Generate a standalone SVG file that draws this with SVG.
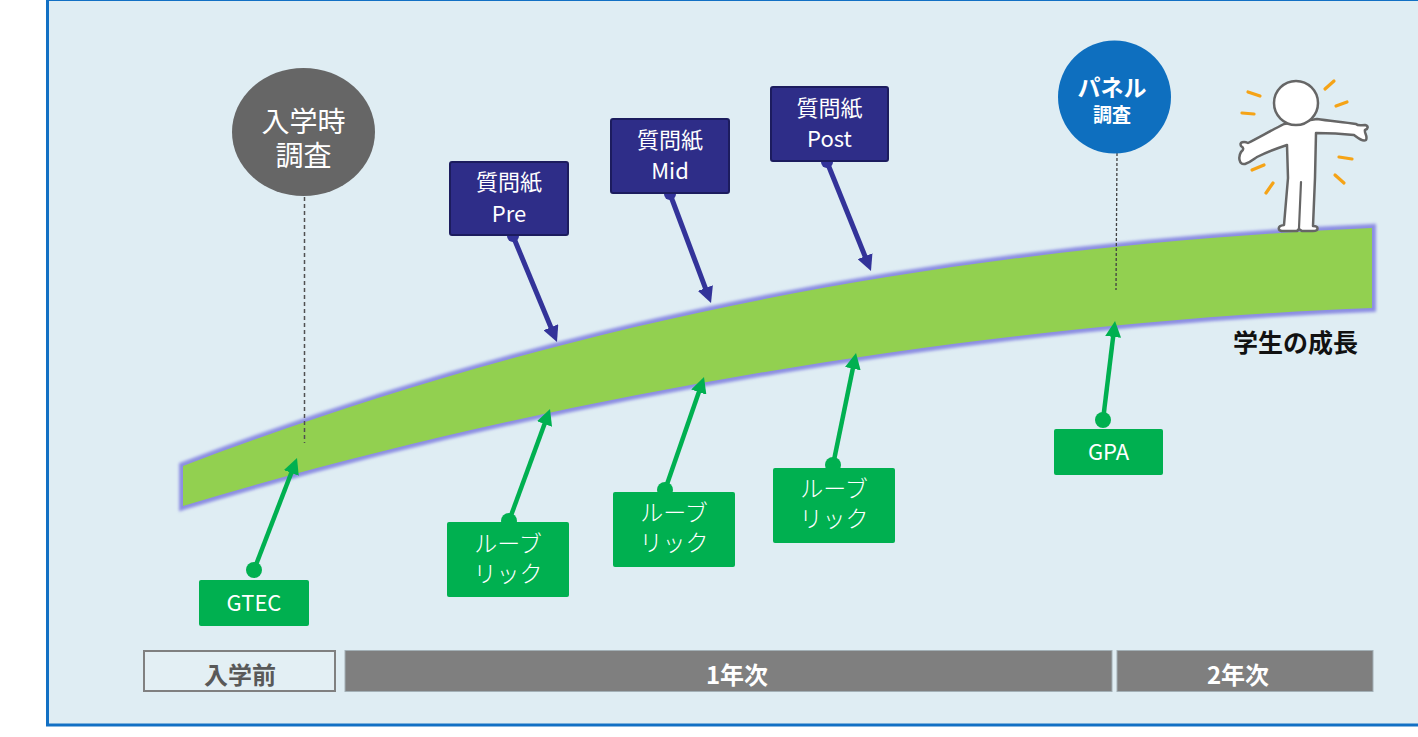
<svg xmlns="http://www.w3.org/2000/svg" width="1418" height="737" viewBox="0 0 1418 737">
  <defs>
    <style>
      text { font-family: "Noto Sans CJK JP", "Noto Sans", sans-serif; }
      .lbl-w { fill: #ffffff; font-size: 22px; text-anchor: middle; }
      .lbl-k { fill: #ffffff; font-size: 23px; text-anchor: middle; font-weight: 300; }
      .navy-box { fill: #2E2D88; stroke: #1C1C5E; stroke-width: 2; }
      .green-box { fill: #00B050; }
      .navy-line { stroke: #333399; stroke-width: 5; fill: none; }
      .green-line { stroke: #00B050; stroke-width: 4.5; fill: none; }
      .ray { stroke: #F5A316; stroke-width: 3.2; stroke-linecap: round; }
      .bar { fill: #7F7F7F; stroke: #A3B0B6; stroke-width: 1; }
      .bar-t { fill: #ffffff; font-size: 24px; font-weight: 700; text-anchor: middle; }
    </style>
    <marker id="head-green" markerUnits="userSpaceOnUse" viewBox="0 0 16 16" markerWidth="16" markerHeight="16" refX="4" refY="8" orient="auto">
      <path d="M0,0 L16,8 L0,16 Z" fill="#00B050"/>
    </marker>
    <marker id="head-navy" markerUnits="userSpaceOnUse" viewBox="0 0 16 16" markerWidth="16" markerHeight="16" refX="4" refY="8" orient="auto">
      <path d="M0,0 L16,8 L0,16 Z" fill="#333399"/>
    </marker>
    <filter id="glow" x="-5%" y="-20%" width="110%" height="140%">
      <feGaussianBlur stdDeviation="1.6"/>
    </filter>
  </defs>

  <!-- page background and frame -->
  <rect x="0" y="0" width="1418" height="737" fill="#ffffff"/>
  <rect x="47.5" y="-0.5" width="1400" height="725.5" fill="#DFEDF3" stroke="#1270C4" stroke-width="3"/>

  <!-- growth band -->
  <g id="growth-band">
    <path d="M183,466 C500,345 880,250 1372,228 L1372,308 C1000,322 560,392 183,506 Z" fill="none" stroke="#8C8EE2" stroke-width="8" filter="url(#glow)"/>
    <path d="M183,466 C500,345 880,250 1372,228 L1372,308 C1000,322 560,392 183,506 Z" fill="#92D050"/>
  </g>

  <!-- connectors -->
  <g id="connectors">
    <line x1="304.5" y1="197" x2="304.5" y2="443" stroke="#505050" stroke-width="1.5" stroke-dasharray="4 3"/>
    <line x1="1117" y1="153" x2="1116" y2="290" stroke="#404040" stroke-width="1.3" stroke-dasharray="3 2"/>

    <circle cx="513" cy="236" r="6" fill="#333399"/>
    <line class="navy-line" x1="513" y1="236" x2="552.4" y2="330.9" marker-end="url(#head-navy)"/>
    <circle cx="670" cy="194" r="6" fill="#333399"/>
    <line class="navy-line" x1="670" y1="194" x2="706.8" y2="291.8" marker-end="url(#head-navy)"/>
    <circle cx="827" cy="162" r="6" fill="#333399"/>
    <line class="navy-line" x1="827" y1="162" x2="866.5" y2="259.9" marker-end="url(#head-navy)"/>

    <circle cx="254" cy="570" r="8" fill="#00B050"/>
    <line class="green-line" x1="254" y1="570" x2="292.7" y2="469.2" marker-end="url(#head-green)"/>
    <circle cx="509" cy="521" r="8" fill="#00B050"/>
    <line class="green-line" x1="509" y1="521" x2="545.9" y2="420.3" marker-end="url(#head-green)"/>
    <circle cx="665" cy="490" r="8" fill="#00B050"/>
    <line class="green-line" x1="665" y1="490" x2="700.1" y2="388.4" marker-end="url(#head-green)"/>
    <circle cx="833" cy="465" r="8" fill="#00B050"/>
    <line class="green-line" x1="833" y1="465" x2="853.6" y2="364.8" marker-end="url(#head-green)"/>
    <circle cx="1103" cy="420" r="8" fill="#00B050"/>
    <line class="green-line" x1="1103" y1="420" x2="1113.6" y2="332.9" marker-end="url(#head-green)"/>
  </g>

  <!-- survey at entry -->
  <g id="entry-survey">
    <ellipse cx="303.5" cy="132" rx="71.5" ry="64" fill="#666666"/>
    <text class="lbl-w" style="font-size:28px"><tspan x="303.5" y="132">入学時</tspan><tspan x="303.5" y="166">調査</tspan></text>
  </g>

  <!-- questionnaires -->
  <g id="q-pre">
    <rect class="navy-box" x="450" y="162" width="118" height="73" rx="2"/>
    <text class="lbl-w"><tspan x="509" y="190">質問紙</tspan><tspan x="509" y="222">Pre</tspan></text>
  </g>
  <g id="q-mid">
    <rect class="navy-box" x="611" y="119" width="118" height="74" rx="2"/>
    <text class="lbl-w"><tspan x="670" y="148">質問紙</tspan><tspan x="670" y="179">Mid</tspan></text>
  </g>
  <g id="q-post">
    <rect class="navy-box" x="771" y="87" width="117" height="74" rx="2"/>
    <text class="lbl-w"><tspan x="829.5" y="116">質問紙</tspan><tspan x="829.5" y="147">Post</tspan></text>
  </g>

  <!-- panel survey -->
  <g id="panel-survey">
    <circle cx="1114.5" cy="97" r="56.5" fill="#0E6FBF"/>
    <text class="lbl-w" style="font-weight:700"><tspan x="1112" y="96" style="font-size:23px">パネル</tspan><tspan x="1112" y="122" style="font-size:19px">調査</tspan></text>
  </g>

  <!-- assessments -->
  <g id="gtec">
    <rect class="green-box" x="199" y="580" width="110" height="46" rx="2"/>
    <text x="254" y="611" class="lbl-w">GTEC</text>
  </g>
  <g id="rubric-1">
    <rect class="green-box" x="447" y="522" width="122" height="75" rx="2"/>
    <text class="lbl-k"><tspan x="508" y="552">ルーブ</tspan><tspan x="508" y="582">リック</tspan></text>
  </g>
  <g id="rubric-2">
    <rect class="green-box" x="613" y="492" width="122" height="75" rx="2"/>
    <text class="lbl-k"><tspan x="674" y="521">ルーブ</tspan><tspan x="674" y="551">リック</tspan></text>
  </g>
  <g id="rubric-3">
    <rect class="green-box" x="773" y="468" width="122" height="75" rx="2"/>
    <text class="lbl-k"><tspan x="834" y="497">ルーブ</tspan><tspan x="834" y="527">リック</tspan></text>
  </g>
  <g id="gpa">
    <rect class="green-box" x="1054" y="429" width="109" height="46" rx="2"/>
    <text x="1108.5" y="460" class="lbl-w">GPA</text>
  </g>

  <!-- growth label -->
  <g id="growth-label">
    <text x="1295.5" y="352" style="font-size:25px;font-weight:700;fill:#111111;text-anchor:middle">学生の成長</text>
  </g>

  <!-- student figure -->
  <g id="student">
    <g class="rays">
      <line class="ray" x1="1248" y1="92" x2="1260" y2="96"/>
      <line class="ray" x1="1242" y1="113" x2="1254" y2="114"/>
      <line class="ray" x1="1252" y1="170" x2="1264" y2="165"/>
      <line class="ray" x1="1266" y1="193" x2="1273" y2="183"/>
      <line class="ray" x1="1325" y1="89" x2="1334" y2="81"/>
      <line class="ray" x1="1336" y1="106" x2="1347" y2="102"/>
      <line class="ray" x1="1339" y1="157" x2="1352" y2="159"/>
      <line class="ray" x1="1335" y1="175" x2="1344" y2="183"/>
    </g>
    <path d="M1284,124 C1272,130 1258,138 1248,143 C1244,141 1239,142 1241,146 C1244,148 1244,149 1241,152 C1238,157 1239,165 1245,164 C1251,162 1254,159 1257,157 C1267,152 1278,148 1287,145 L1288,178 L1284,225 C1277,226 1277,231 1284,231 L1297,231 L1299,229 L1302,231 L1313,231 C1319,231 1319,226 1313,226 L1315,178 L1316,133 C1330,133 1345,134 1354,135 C1358,138 1363,142 1366,140 C1368,136 1364,133 1365,130 C1368,129 1369,126 1365,125 C1361,125 1358,126 1356,124 C1343,122 1330,121 1317,119 Z" fill="#ffffff" stroke="#666666" stroke-width="2.5" stroke-linejoin="round"/>
    <line x1="1301" y1="182" x2="1299" y2="228" stroke="#666666" stroke-width="2.2" stroke-linecap="round"/>
    <circle cx="1296" cy="103" r="22" fill="#ffffff" stroke="#666666" stroke-width="2.5"/>
  </g>

  <!-- timeline -->
  <g id="period-pre">
    <rect x="144" y="651" width="191" height="40" fill="#E3EFF4" stroke="#808080" stroke-width="2"/>
    <text x="240" y="684" class="bar-t" style="fill:#595959">入学前</text>
  </g>
  <g id="period-year1">
    <rect class="bar" x="345" y="650.5" width="767" height="41"/>
    <text x="737" y="684" class="bar-t">1年次</text>
  </g>
  <g id="period-year2">
    <rect class="bar" x="1117" y="650.5" width="256" height="41"/>
    <text x="1238" y="684" class="bar-t">2年次</text>
  </g>
</svg>
